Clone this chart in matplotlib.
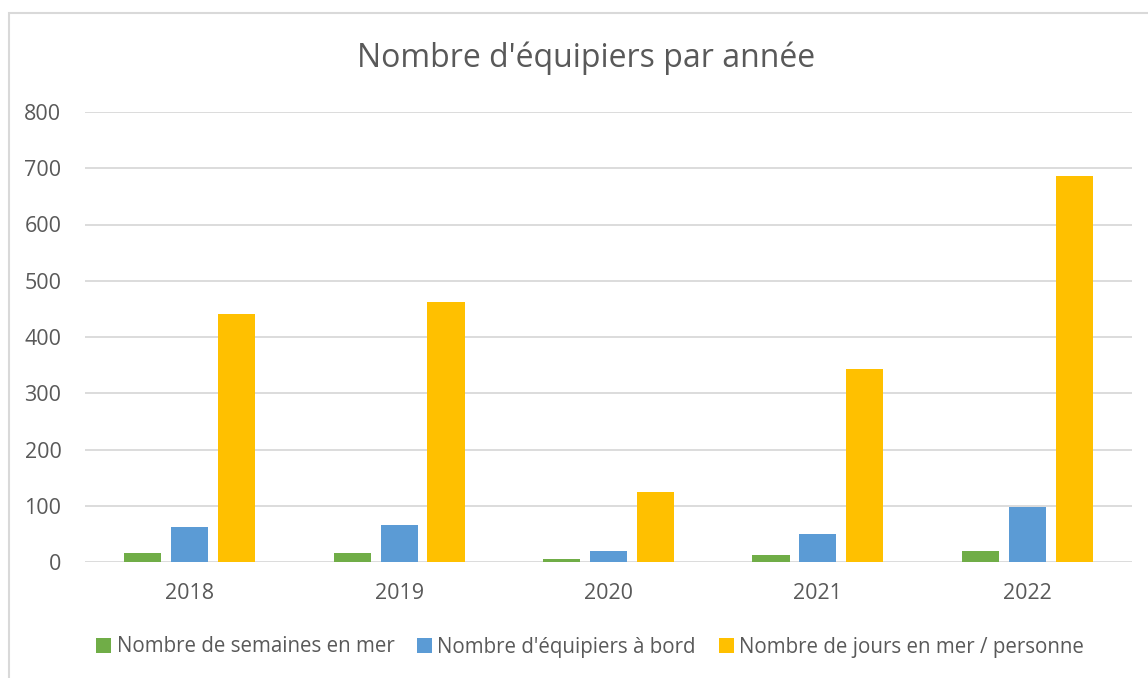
import matplotlib.pyplot as plt
import numpy as np
from matplotlib.patches import Rectangle

years = ["2018", "2019", "2020", "2021", "2022"]
semaines = [16, 16, 5, 12, 20]
equipiers = [62, 65, 20, 49, 98]
jours = [441, 462, 125, 343, 686]

series_names = [
    "Nombre de semaines en mer",
    "Nombre d'équipiers à bord",
    "Nombre de jours en mer / personne",
]
colors = ["#70AD47", "#5B9BD5", "#FFC000"]
text_color = "#595959"
grid_color = "#D9D9D9"

plt.rcParams['font.family'] = ['Open Sans', 'DejaVu Sans']

fig = plt.figure(figsize=(11.48, 6.78), dpi=100)
ax = fig.add_axes([85 / 1148, 1 - 562 / 678, (1132 - 85) / 1148, 450 / 678])

# chart border (partly cut off at right/bottom like the screenshot)
fig.patches.append(Rectangle((8.5 / 1148, -0.1), 1.2, 1.1 - 13 / 678,
                             transform=fig.transFigure, fill=False,
                             edgecolor=grid_color, linewidth=1.5))

x = np.arange(len(years))
width = 0.177
step = 0.224
for i, (vals, name, c) in enumerate(zip([semaines, equipiers, jours], series_names, colors)):
    ax.bar(x + (i - 1) * step, vals, width, color=c, label=name, zorder=3)

ax.set_xlim(-0.5, len(years) - 0.5)
ax.set_ylim(0, 800)
ax.set_yticks(range(0, 801, 100))
ax.set_xticks(x)
ax.set_xticklabels(years)
ax.yaxis.grid(True, color=grid_color, linewidth=1.3, zorder=0)
ax.set_axisbelow(True)
for s in ax.spines.values():
    s.set_visible(False)
ax.tick_params(axis='both', length=0, labelsize=15.5, colors=text_color)
ax.tick_params(axis='x', pad=15)
ax.tick_params(axis='y', pad=17)

fig.text(586 / 1148, 1 - 58 / 678, "Nombre d'équipiers par année",
         ha='center', va='center', fontsize=23, color=text_color)

fig.legend(loc='center', bbox_to_anchor=(590 / 1148, 1 - 647 / 678), ncol=3,
           frameon=False, fontsize=14.8, labelcolor=text_color,
           handlelength=0.75, handleheight=0.75, handletextpad=0.25,
           columnspacing=1.1)

fig.savefig("out.png", dpi=100)
